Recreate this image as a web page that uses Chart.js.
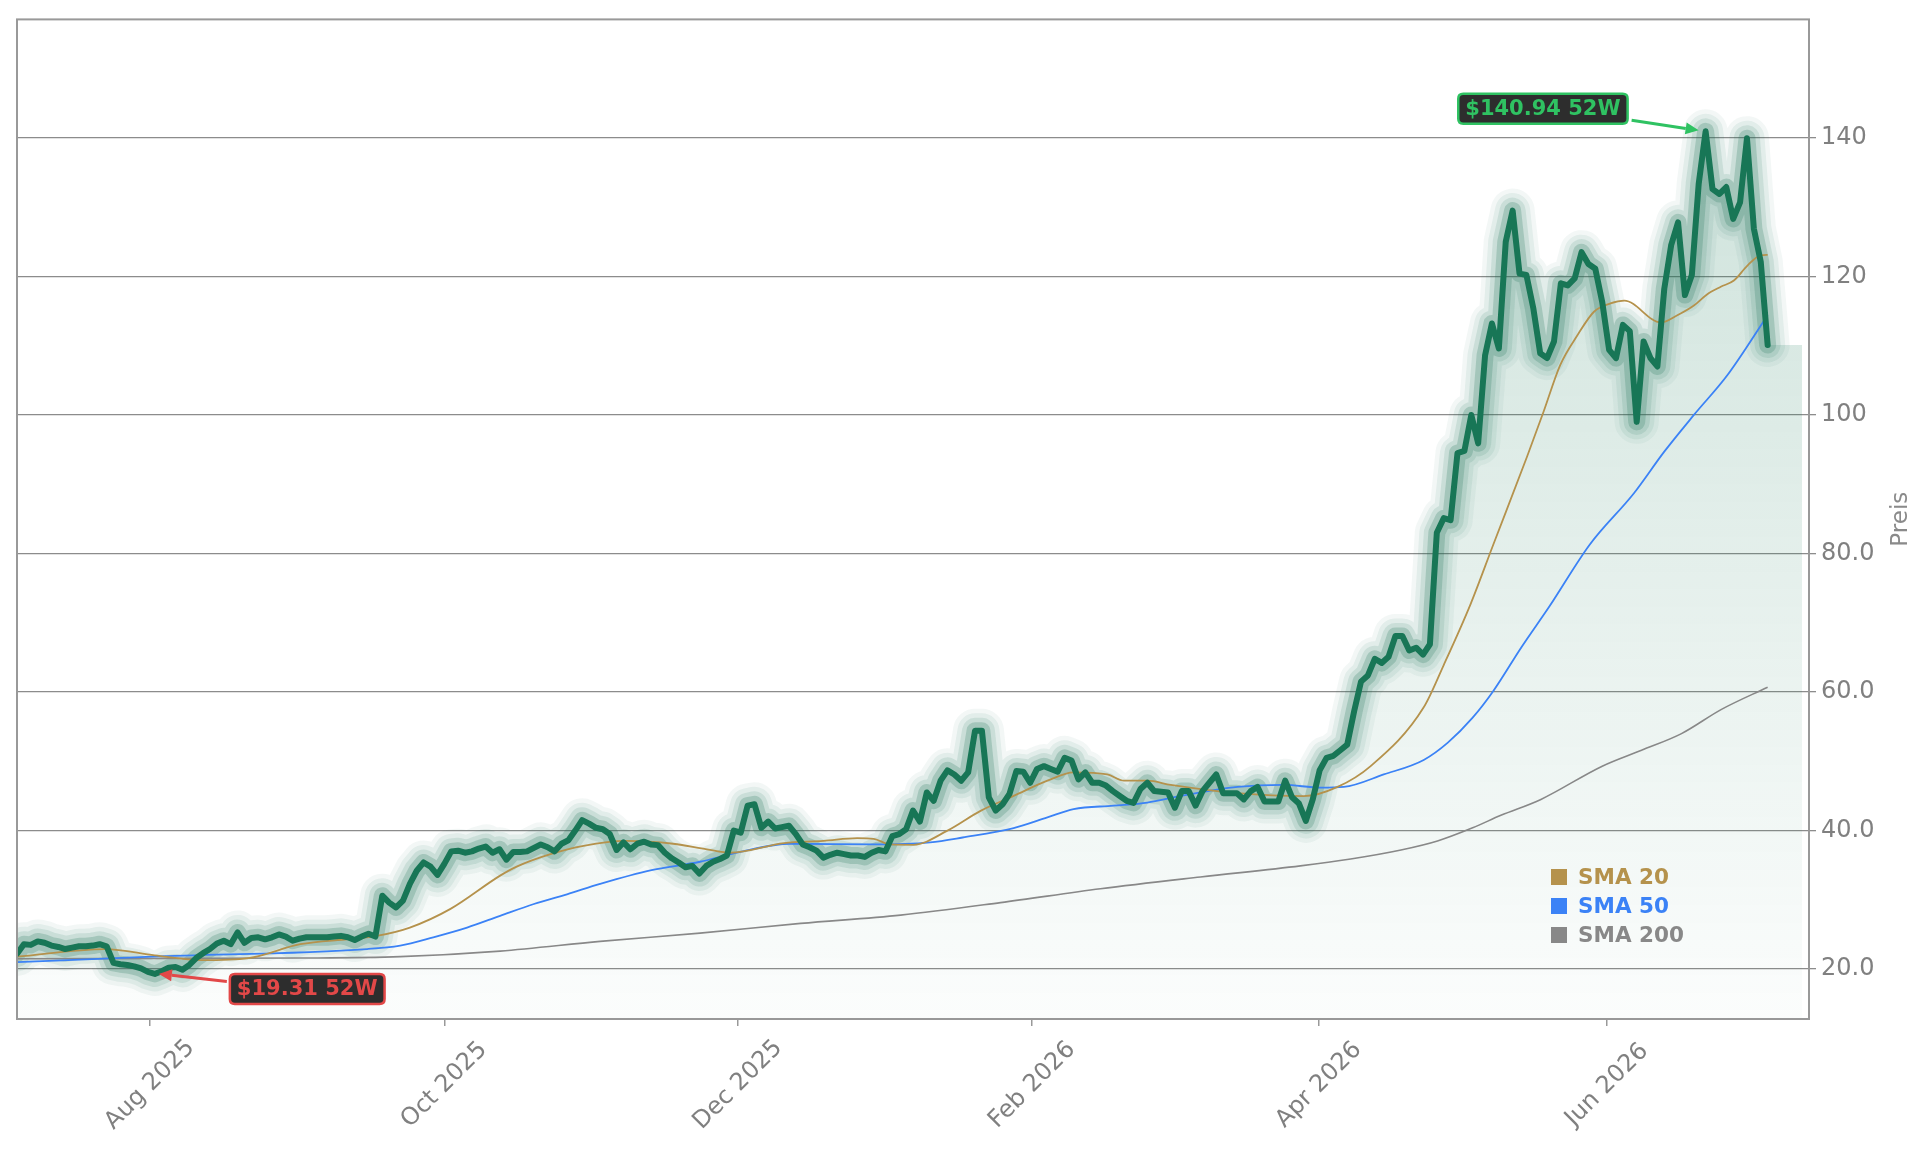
<!DOCTYPE html>
<html>
<head>
<meta charset="utf-8">
<script src="https://cdn.jsdelivr.net/npm/chart.js@4.4.1/dist/chart.umd.min.js"></script>
<style>
html,body{margin:0;padding:0;background:#ffffff;}
#wrap{width:1929px;height:1151px;position:relative;}
canvas{display:block;}
</style>
</head>
<body>
<div id="wrap"><canvas id="c" width="1929" height="1151"></canvas></div>
<script>
// ---------------- DATA ----------------
const priceValues = [
 22.2, 23.6, 23.5, 24.0, 23.8, 23.4, 23.2, 22.9, 23.1, 23.3,
 23.3, 23.4, 23.6, 23.3, 20.9, 20.7, 20.6, 20.4, 20.1, 19.6,
 19.31, 19.7, 20.2, 20.3, 19.9, 20.6, 21.6, 22.3, 22.9, 23.7,
 24.1, 23.6, 25.3, 23.8, 24.5, 24.6, 24.3, 24.6, 25.0, 24.7,
 24.1, 24.4, 24.6, 24.6, 24.6, 24.6, 24.7, 24.8, 24.6, 24.2,
 24.7, 25.1, 24.7, 30.6, 29.6, 28.9, 29.9, 32.3, 34.2, 35.4,
 34.8, 33.6, 35.2, 37.0, 37.1, 36.8, 37.0, 37.4, 37.7, 36.8,
 37.3, 35.8, 36.9, 36.9, 37.0, 37.5, 38.0, 37.6, 37.0, 38.1,
 38.6, 40.0, 41.5, 41.0, 40.4, 40.2, 39.5, 37.2, 38.3, 37.3,
 38.1, 38.4, 38.0, 37.9, 36.8, 36.0, 35.4, 34.7, 34.9, 33.8,
 34.9, 35.5, 35.9, 36.4, 40.0, 39.7, 43.6, 43.8, 40.4, 41.3,
 40.3, 40.5, 40.7, 39.5, 38.0, 37.6, 37.1, 36.1, 36.5, 36.8,
 36.6, 36.4, 36.4, 36.2, 36.8, 37.2, 37.0, 39.2, 39.5, 40.2,
 42.9, 41.3, 45.5, 44.3, 47.2, 48.7, 48.1, 47.2, 48.4, 54.4,
 54.4, 44.8, 42.9, 43.8, 45.3, 48.6, 48.5, 46.9, 48.9, 49.3,
 48.9, 48.5, 50.5, 50.1, 47.4, 48.4, 46.9, 46.9, 46.5, 45.7,
 45.0, 44.3, 44.0, 46.0, 46.9, 45.7, 45.6, 45.5, 43.3, 45.7,
 45.7, 43.6, 45.7, 46.9, 48.1, 45.4, 45.4, 45.4, 44.5, 45.7,
 46.3, 44.2, 44.2, 44.2, 47.2, 44.8, 43.9, 41.4, 44.5, 48.7,
 50.5, 50.8, 51.6, 52.4, 57.2, 61.5, 62.4, 64.8, 64.2, 65.1,
 68.1, 68.1, 66.0, 66.4, 65.4, 66.9, 83.0, 85.1, 84.8, 94.5,
 94.8, 100.0, 95.9, 108.6, 113.2, 109.6, 125.0, 129.5, 120.4, 120.2,
 115.4, 108.9, 108.2, 110.6, 119.0, 118.7, 119.7, 123.5, 121.8, 121.1,
 116.3, 109.4, 108.2, 113.0, 112.1, 99.0, 110.6, 108.2, 107.0, 118.2,
 124.5, 127.8, 117.3, 120.2, 133.4, 140.94, 132.6, 131.9, 132.9, 128.3,
 130.7, 139.95, 126.9, 122.1, 110.1
];

const sma20Idx = [0, 12.8, 20, 26.8, 33.6, 41.1, 48.3, 52.2, 57.0, 62.9, 70.1, 72.5, 77.4, 82.2, 88.3, 95.2, 100.1, 103.5, 111.3, 117.0, 121.9, 124.3, 126.7, 130.1, 135.0, 139.8, 144.6, 149.5, 153.3, 158.2, 160.6, 164.0, 167.4, 177.1, 186.7, 191.6, 196.4, 204.1, 207.0, 210.9, 214.2, 219.1, 221.5, 223.9, 226.4, 228.8, 231.2, 233.2, 238.5, 240.9, 243.3, 245.2, 247.2, 249.1, 251.1, 253.0, 254];
const sma20Values = [21.8, 22.9, 22.0, 21.3, 21.6, 23.6, 24.35, 24.8, 26.0, 28.7, 33.5, 34.8, 36.6, 37.8, 38.5, 38.1, 37.3, 36.8, 38.2, 38.5, 38.9, 38.8, 38.0, 37.95, 40.0, 42.85, 45.0, 47.2, 48.4, 48.1, 47.2, 47.2, 46.6, 45.4, 44.96, 46.3, 49.3, 57.8, 63.9, 72.7, 81.3, 94.0, 100.5, 107.2, 111.5, 114.9, 116.1, 116.5, 113.35, 114.4, 115.8, 117.4, 118.5, 119.4, 121.6, 123.05, 123.1];

const sma50Idx = [0, 19.6, 50.8, 55.6, 60.4, 65.3, 70.1, 75.0, 79.8, 84.6, 91.9, 99.1, 104.8, 112.2, 124.3, 132.5, 137.2, 144.6, 149.5, 153.3, 159.1, 164.0, 168.8, 177.1, 183.8, 189.1, 192.5, 198.3, 204.1, 207.6, 211.2, 214.2, 218.3, 222.3, 228.2, 234.6, 239.0, 243.3, 248.2, 254];
const sma50Values = [21.0, 21.8, 22.9, 23.4, 24.6, 26.0, 27.7, 29.4, 30.8, 32.3, 34.25, 35.5, 36.9, 38.1, 38.0, 38.3, 39.0, 40.35, 41.9, 43.1, 43.6, 44.05, 45.0, 46.3, 46.6, 46.2, 46.3, 48.1, 50.2, 52.7, 56.3, 60.15, 66.5, 72.3, 81.3, 88.7, 94.7, 100.0, 105.8, 114.4];

const sma200Idx = [0, 41.1, 55.6, 70.1, 84.6, 99.1, 113.7, 128.2, 142.7, 157.2, 171.7, 186.2, 193.5, 200.8, 206.1, 211.2, 215.3, 221.1, 230.0, 235.7, 241.5, 247.3, 254];
const sma200Values = [21.5, 21.6, 21.8, 22.6, 24.0, 25.2, 26.6, 27.8, 29.6, 31.6, 33.3, 34.9, 35.9, 37.2, 38.5, 40.4, 42.2, 44.5, 49.3, 51.6, 54.0, 57.5, 60.7];

const xTickIdx = [19.3, 62.0, 104.6, 147.3, 188.9, 230.7];
const xTickLabels = ['Aug 2025', 'Oct 2025', 'Dec 2025', 'Feb 2026', 'Apr 2026', 'Jun 2026'];
const yTickValues = [20, 40, 60, 80, 100, 120, 140];
const yTickLabels = ['20.0', '40.0', '60.0', '80.0', '100', '120', '140'];
const fillEndIdx = 259;
const yAxisTitle = 'Preis';
const legendLabels = ['SMA 20', 'SMA 50', 'SMA 200'];

// ---------------- BUILD ----------------
const FONT = '"DejaVu Sans", "Liberation Sans", sans-serif';
Chart.defaults.font.family = FONT;

const GREEN = 'rgb(24,118,86)';
const C20 = '#b5924c', C50 = '#3b82f6', C200 = '#888888';

const pricePts = priceValues.map((v, i) => ({x: i, y: v}));
const fillPts = pricePts.concat([{x: fillEndIdx, y: priceValues[priceValues.length - 1]}]);
const toPts = (idx, vals) => idx.map((x, i) => ({x: x, y: vals[i]}));

let hiI = 0, loI = 0;
priceValues.forEach((v, i) => { if (v > priceValues[hiI]) hiI = i; if (v < priceValues[loI]) loI = i; });

const glow = [
  {w: 44, a: 0.055, o: 9},
  {w: 35, a: 0.08, o: 8},
  {w: 26, a: 0.12, o: 7},
  {w: 17, a: 0.22, o: 6}
];

const datasets = [
  {
    label: 'fill', data: fillPts, order: 20, borderWidth: 0, pointRadius: 0,
    fill: 'start', clip: 0,
    backgroundColor: (c) => {
      const a = c.chart.chartArea;
      if (!a) return 'rgba(27,122,88,0.1)';
      const g = c.chart.ctx.createLinearGradient(0, a.top, 0, a.bottom);
      g.addColorStop(0, 'rgba(27,122,88,0.24)');
      g.addColorStop(1, 'rgba(27,122,88,0.015)');
      return g;
    }
  }
];
glow.forEach(g => datasets.push({
  label: 'glow', data: pricePts, order: g.o, borderWidth: g.w, pointRadius: 0, fill: false, clip: 0,
  borderColor: 'rgba(30,115,88,' + g.a + ')', borderJoinStyle: 'round', borderCapStyle: 'round'
}));
datasets.push(
  {label: legendLabels[2], data: toPts(sma200Idx, sma200Values), order: 4, borderColor: C200, borderWidth: 1.6, pointRadius: 0, fill: false, cubicInterpolationMode: 'monotone', clip: 0},
  {label: legendLabels[1], data: toPts(sma50Idx, sma50Values), order: 3, borderColor: C50, borderWidth: 1.8, pointRadius: 0, fill: false, cubicInterpolationMode: 'monotone', clip: 0},
  {label: legendLabels[0], data: toPts(sma20Idx, sma20Values), order: 2, borderColor: C20, borderWidth: 1.8, pointRadius: 0, fill: false, cubicInterpolationMode: 'monotone', clip: 0},
  {label: 'Preis', data: pricePts, order: 0, borderColor: GREEN, borderWidth: 6, pointRadius: 0, fill: false, clip: 0,
   borderJoinStyle: 'round', borderCapStyle: 'round'}
);

function roundRect(ctx, x, y, w, h, r) {
  ctx.beginPath();
  ctx.moveTo(x + r, y);
  ctx.lineTo(x + w - r, y); ctx.quadraticCurveTo(x + w, y, x + w, y + r);
  ctx.lineTo(x + w, y + h - r); ctx.quadraticCurveTo(x + w, y + h, x + w - r, y + h);
  ctx.lineTo(x + r, y + h); ctx.quadraticCurveTo(x, y + h, x, y + h - r);
  ctx.lineTo(x, y + r); ctx.quadraticCurveTo(x, y, x + r, y);
  ctx.closePath();
}
function arrow(ctx, x1, y1, x2, y2, color) {
  const ang = Math.atan2(y2 - y1, x2 - x1);
  const L = 13, W = 6;
  ctx.strokeStyle = color; ctx.fillStyle = color; ctx.lineWidth = 3;
  ctx.beginPath(); ctx.moveTo(x1, y1);
  ctx.lineTo(x2 - L * Math.cos(ang), y2 - L * Math.sin(ang)); ctx.stroke();
  ctx.beginPath();
  ctx.moveTo(x2, y2);
  ctx.lineTo(x2 - L * Math.cos(ang) + W * Math.sin(ang), y2 - L * Math.sin(ang) - W * Math.cos(ang));
  ctx.lineTo(x2 - L * Math.cos(ang) - W * Math.sin(ang), y2 - L * Math.sin(ang) + W * Math.cos(ang));
  ctx.closePath(); ctx.fill();
}
function badge(ctx, bx, by, text, color) {
  ctx.font = 'bold 21px ' + FONT;
  const tw = ctx.measureText(text).width;
  const w = tw + 14, h = 30;
  roundRect(ctx, bx, by, w, h, 5);
  ctx.fillStyle = '#2d2d2d'; ctx.fill();
  ctx.lineWidth = 2.5; ctx.strokeStyle = color; ctx.stroke();
  ctx.fillStyle = color; ctx.textAlign = 'left'; ctx.textBaseline = 'middle';
  ctx.fillText(text, bx + 7, by + h / 2 + 1);
  return w;
}

const overlay = {
  id: 'overlay',
  afterDatasetsDraw(chart) {
    const {ctx, chartArea: a} = chart;
    ctx.save();
    ctx.strokeStyle = '#999999'; ctx.lineWidth = 2;
    ctx.strokeRect(a.left, a.top, a.right - a.left, a.bottom - a.top);
    ctx.restore();
  },
  afterDraw(chart) {
    const {ctx, chartArea: a, scales: {x, y}} = chart;
    ctx.save();
    // x labels (rotated, centred under ticks)
    ctx.font = '24px ' + FONT; ctx.fillStyle = '#808080';
    ctx.textAlign = 'center'; ctx.textBaseline = 'middle';
    xTickIdx.forEach((v, i) => {
      const px = x.getPixelForValue(v);
      ctx.save(); ctx.translate(px, a.bottom + 66); ctx.rotate(-Math.PI / 4);
      ctx.fillText(xTickLabels[i], 0, 0); ctx.restore();
    });
    // y title
    ctx.save(); ctx.translate(1901, (a.top + a.bottom) / 2); ctx.rotate(-Math.PI / 2);
    ctx.font = '23px ' + FONT; ctx.fillStyle = '#8a8a8a';
    ctx.fillText(yAxisTitle, 0, 0); ctx.restore();
    // legend
    const cols = [C20, C50, C200];
    ctx.font = 'bold 21.5px ' + FONT; ctx.textAlign = 'left'; ctx.textBaseline = 'middle';
    legendLabels.forEach((t, i) => {
      const cy = a.bottom - 142 + i * 29;
      ctx.fillStyle = cols[i];
      ctx.fillRect(a.right - 258, cy - 8, 16, 16);
      ctx.fillText(t, a.right - 231, cy + 1);
    });
    // 52W high
    const hx = x.getPixelForValue(hiI), hy = y.getPixelForValue(priceValues[hiI]);
    const hText = '$' + priceValues[hiI].toFixed(2) + ' 52W';
    ctx.font = 'bold 21px ' + FONT;
    const hw = ctx.measureText(hText).width + 14;
    const hbx = hx - 78 - hw, hby = hy - 22.5 - 15;
    arrow(ctx, hbx + hw + 4, hy - 11, hx - 7, hy - 1, '#2fc262');
    badge(ctx, hbx, hby, hText, '#2fc262');
    // 52W low
    const lx = x.getPixelForValue(loI), ly = y.getPixelForValue(priceValues[loI]);
    const lText = '$' + priceValues[loI].toFixed(2) + ' 52W';
    const lbx = lx + 75, lby = ly + 15 - 15;
    arrow(ctx, lbx - 3, ly + 7.5, lx + 4, ly, '#e24848');
    badge(ctx, lbx, lby, lText, '#e24848');
    ctx.restore();
  }
};

new Chart(document.getElementById('c'), {
  type: 'line',
  data: {datasets},
  plugins: [overlay],
  options: {
    responsive: false, animation: false, devicePixelRatio: 1,
    parsing: true, normalized: true,
    layout: {padding: {left: 17, top: 17, right: 0, bottom: 0}},
    plugins: {legend: {display: false}, tooltip: {enabled: false}},
    elements: {point: {radius: 0}, line: {tension: 0}},
    scales: {
      x: {
        type: 'linear', min: 0, max: 260,
        afterBuildTicks: ax => { ax.ticks = xTickIdx.map(v => ({value: v})); },
        afterFit: ax => { ax.height = 132; },
        ticks: {display: false},
        grid: {display: true, drawOnChartArea: false, drawTicks: true, tickLength: 7, color: '#999999', lineWidth: 1.5},
        border: {display: false}
      },
      y: {
        type: 'linear', position: 'right', min: 12.8, max: 157.1,
        afterBuildTicks: ax => { ax.ticks = yTickValues.map(v => ({value: v})); },
        afterFit: ax => { ax.width = 120; },
        ticks: {
          callback: (v) => yTickLabels[yTickValues.indexOf(v)],
          color: '#808080', font: {family: FONT, size: 24}, padding: 5
        },
        grid: {color: '#8c8c8c', lineWidth: 1.3, tickLength: 7, drawTicks: true},
        border: {display: false}
      }
    }
  }
});
</script>
</body>
</html>
